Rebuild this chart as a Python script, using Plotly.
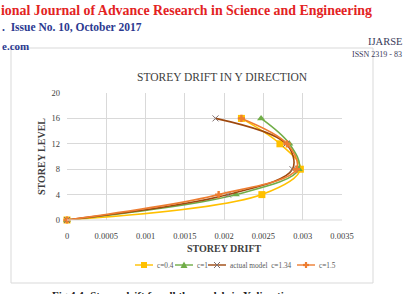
import plotly.graph_objects as go

# ---- data ----
storey_levels = [0, 4, 8, 12, 16]
drift_c04 = [0, 0.00248, 0.00297, 0.00271, 0.00222]
drift_c1 = [0, 0.00215, 0.00295, 0.00283, 0.00247]
drift_actual = [0, 0.00205, 0.00287, 0.00279, 0.00189]
drift_c15 = [0, 0.00193, 0.00292, 0.00280, 0.00222]
series_names = ["c=0.4", "c=1", "actual model  c=1.34", "c=1.5"]
x_tick_vals = [0, 0.0005, 0.001, 0.0015, 0.002, 0.0025, 0.003, 0.0035]
x_tick_text = ["0", "0.0005", "0.001", "0.0015", "0.002", "0.0025", "0.003", "0.0035"]
y_tick_vals = [0, 4, 8, 12, 16, 20]

W, H = 404, 294
L, R, T, B = 67, 342, 93, 220  # plot area in pixels


def px(xp):
    return (xp - L) / (R - L)


def py(yp):
    return (B - yp) / (B - T)


SERIF = "Liberation Serif, Times New Roman, serif"

fig = go.Figure()
styles = [
    (drift_c04, "#FFC000", "square", 7),
    (drift_c1, "#70AD47", "triangle-up", 7),
    (drift_actual, "#9E480E", "x-thin", 6),
    (drift_c15, "#ED7D31", "cross", 6),
]
for name, (vals, col, sym, sz) in zip(series_names, styles):
    mk = dict(symbol=sym, size=sz, color=col)
    if sym == "x-thin":
        mk["line"] = dict(color="#7F6F6F", width=1)
    fig.add_trace(go.Scatter(
        x=vals, y=storey_levels, name=name, mode="lines+markers",
        line=dict(color=col, width=1.6, shape="spline", smoothing=1),
        marker=mk, cliponaxis=False, showlegend=False,
    ))

fig.update_layout(
    width=W, height=H,
    margin=dict(l=L, r=W - R, t=T, b=H - B, autoexpand=False),
    paper_bgcolor="white", plot_bgcolor="white",
    showlegend=False,
    font=dict(family=SERIF, color="#595959"),
)
fig.update_xaxes(range=[0, 0.0035], tickvals=x_tick_vals, ticktext=x_tick_text,
                 showgrid=True, gridcolor="#D9D9D9", gridwidth=1, zeroline=False,
                 showline=False, ticks="", ticklabelstandoff=9,
                 tickfont=dict(family=SERIF, size=8.5, color="#404040"))
fig.update_yaxes(range=[0, 20], tickvals=y_tick_vals,
                 showgrid=True, gridcolor="#D9D9D9", gridwidth=1, zeroline=False,
                 showline=False, ticks="", ticklabelstandoff=6,
                 tickfont=dict(family=SERIF, size=8.5, color="#404040"))

shapes = []
# bottom axis line at 0
shapes.append(dict(type="line", x0=0, x1=1, y0=0, y1=0, line=dict(color="#D9D9D9", width=1)))
# chart box
shapes.append(dict(type="rect", x0=px(11), x1=px(373), y0=py(283), y1=py(48),
                   line=dict(color="#D9D9D9", width=1), layer="below"))

ann = []
# ---- legend (manual, compact like the reference) ----
LY = 265
legend_layout = [  # (symbol line start, end, text start) in pixels
    (135, 153, 155),
    (175, 193, 195),
    (208, 226, 228),
    (297, 315, 317),
]
for name, (vals, col, sym, sz), (s0, s1, tx) in zip(series_names, styles, legend_layout):
    shapes.append(dict(type="line", x0=px(s0), x1=px(s1), y0=py(LY), y1=py(LY),
                       line=dict(color=col, width=1.4)))
    cx = (s0 + s1) / 2
    if sym == "square":
        shapes.append(dict(type="rect", x0=px(cx - 3), x1=px(cx + 3), y0=py(LY + 3), y1=py(LY - 3),
                           fillcolor=col, line=dict(width=0)))
    elif sym == "triangle-up":
        shapes.append(dict(type="path",
                           path=f"M {px(cx-3.5)},{py(LY+3)} L {px(cx+3.5)},{py(LY+3)} L {px(cx)},{py(LY-3.5)} Z",
                           fillcolor=col, line=dict(width=0)))
    elif sym == "x-thin":
        for d in (1, -1):
            shapes.append(dict(type="line", x0=px(cx - 3), x1=px(cx + 3), y0=py(LY - 3 * d), y1=py(LY + 3 * d),
                               line=dict(color="#7F6F6F", width=1)))
    else:
        shapes.append(dict(type="line", x0=px(cx - 3), x1=px(cx + 3), y0=py(LY), y1=py(LY),
                           line=dict(color=col, width=2.2)))
        shapes.append(dict(type="line", x0=px(cx), x1=px(cx), y0=py(LY - 3), y1=py(LY + 3),
                           line=dict(color=col, width=2.2)))
    ann.append(dict(text=name, x=px(tx), y=py(LY), xanchor="left", yanchor="middle",
                    font=dict(family=SERIF, size=7.3, color="#595959")))
for s in shapes:
    s.update(xref="paper", yref="paper")
fig.update_layout(shapes=shapes)

ann.append(dict(text="STOREY DRIFT IN Y DIRECTION", x=px(222), y=py(77), xanchor="center", yanchor="middle",
                font=dict(family=SERIF, size=11.5, color="#404040")))
ann.append(dict(text="<b>STOREY DRIFT</b>", x=px(224), y=py(248), xanchor="center", yanchor="middle",
                font=dict(family=SERIF, size=10, color="#404040")))
ann.append(dict(text="<b>STOREY LEVEL</b>", x=px(41), y=py(157), xanchor="center", yanchor="middle",
                textangle=-90, font=dict(family=SERIF, size=10, color="#404040")))
# page header
ann.append(dict(text="<b>ional Journal of Advance Research in Science and Engineering</b>",
                x=px(-1), y=py(10), xanchor="left", yanchor="middle",
                font=dict(family=SERIF, size=13.9, color="#E3231F")))
ann.append(dict(text="<b>.  Issue No. 10, October 2017</b>", x=px(0), y=py(27), xanchor="left", yanchor="middle",
                font=dict(family=SERIF, size=11.5, color="#2B3990")))
ann.append(dict(text="<b>e.com</b>", x=px(0), y=py(46), xanchor="left", yanchor="middle",
                font=dict(family=SERIF, size=11, color="#2B3990")))
ann.append(dict(text="IJARSE", x=px(404), y=py(41), xanchor="right", yanchor="middle",
                font=dict(family=SERIF, size=10.5, color="#3A3A5A")))
ann.append(dict(text="ISSN 2319 - 83", x=px(404), y=py(54), xanchor="right", yanchor="middle",
                font=dict(family=SERIF, size=8, color="#3A3A5A")))
ann.append(dict(text="<b>Fig 4.4: Storey drift for all the models in Y direction</b>", x=px(50), y=py(287),
                xanchor="left", yanchor="top", font=dict(family=SERIF, size=11, color="#202020")))
for a in ann:
    a.update(xref="paper", yref="paper", showarrow=False)
fig.update_layout(annotations=ann)

fig.write_html("out.html")
